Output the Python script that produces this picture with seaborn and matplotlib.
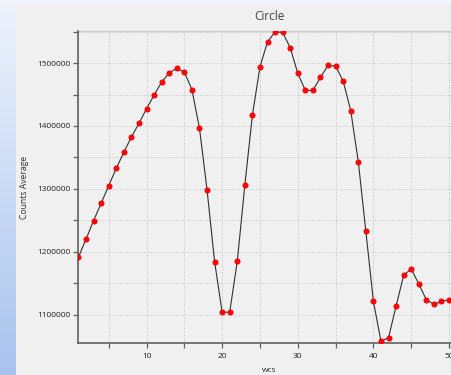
import numpy as np
import pandas as pd
import matplotlib
matplotlib.use("Agg")
import matplotlib.pyplot as plt
from matplotlib.ticker import MultipleLocator
from matplotlib.colors import LinearSegmentedColormap
import seaborn as sns

# ---- data ----
wcs = list(range(1, 51))
counts_average = [
    1191600, 1220200, 1249700, 1277300, 1305300, 1332800, 1358300, 1382500, 1404300, 1427500,
    1449200, 1469800, 1484600, 1491500, 1485700, 1457700, 1396300, 1298400, 1184100, 1103700,
    1104200, 1185200, 1306300, 1417500, 1494200, 1533800, 1549700, 1548700, 1524300, 1483600,
    1456600, 1456600, 1477300, 1496300, 1495200, 1471400, 1424300, 1343400, 1232300, 1121200,
    1057700, 1063500, 1113800, 1162400, 1173000, 1148700, 1123800, 1116400, 1121200, 1123800,
]
title = "Circle"
x_label = "wcs"
y_label = "Counts Average"

df = pd.DataFrame({"wcs": wcs, "counts": counts_average})

sns.set_theme(style="white")
plt.rcParams["font.family"] = ["Open Sans", "DejaVu Sans"]

W, H = 452, 375
fig = plt.figure(figsize=(W / 100, H / 100), dpi=100, facecolor="#f0f0f0")

# background decorations: left blue gradient strip and top light strip
bg = fig.add_axes([0, 0, 16 / W, 1])
grad = np.linspace(0, 1, 256).reshape(-1, 1)
cmap = LinearSegmentedColormap.from_list("bg", ["#eef3fc", "#a9c3ee"])
bg.imshow(grad, aspect="auto", cmap=cmap, extent=[0, 1, 1, 0])
bg.set_axis_off()
top = fig.add_axes([16 / W, 1 - 4 / H, 1 - 16 / W, 4 / H])
top.set_facecolor("#f2f5fb")
top.set_xticks([]); top.set_yticks([])
for s in top.spines.values():
    s.set_visible(False)

left, right, ytop, ybot = 78.5, 460, 31, 343
ax = fig.add_axes([left / W, 1 - ybot / H, (right - left) / W, (ybot - ytop) / H])
ax.set_facecolor("#f0f0f0")

sns.lineplot(data=df, x="wcs", y="counts", ax=ax, color="#303030", linewidth=0.8,
             marker="o", markersize=3.6, markerfacecolor="#ff0000",
             markeredgecolor="#ff0000", zorder=3)

ax.set_xlim(1, 51.45)
ax.set_ylim(1055000, 1551000)
ax.xaxis.set_major_locator(MultipleLocator(10))
ax.xaxis.set_minor_locator(MultipleLocator(5))
ax.yaxis.set_major_locator(MultipleLocator(100000))
ax.yaxis.set_minor_locator(MultipleLocator(50000))
ax.ticklabel_format(axis="y", style="plain", useOffset=False)

ax.grid(which="both", color="#c4c4c4", linestyle=(0, (1, 1.5)), linewidth=0.7)
ax.set_axisbelow(True)

for side in ["top", "right"]:
    ax.spines[side].set_visible(False)
for side in ["left", "bottom"]:
    ax.spines[side].set_color("#606060")
    ax.spines[side].set_linewidth(1.2)

ax.tick_params(which="both", direction="out", length=3.5, width=0.9, color="#606060",
               labelsize=6, labelcolor="#202020", left=True, bottom=True)
ax.tick_params(axis="y", pad=2)
ax.tick_params(axis="x", pad=4)

ax.set_title(title, fontsize=8.5, color="#404040", pad=8)
ax.set_xlabel(x_label, fontsize=6, color="#303030", labelpad=5)
ax.set_ylabel(y_label, fontsize=6.2, color="#303030", labelpad=6)

# light separator line at top of plot area
ax.axhline(1551000, color="#d0d0d0", linewidth=1.0, clip_on=False)

fig.savefig("out.png", dpi=100, facecolor=fig.get_facecolor())
